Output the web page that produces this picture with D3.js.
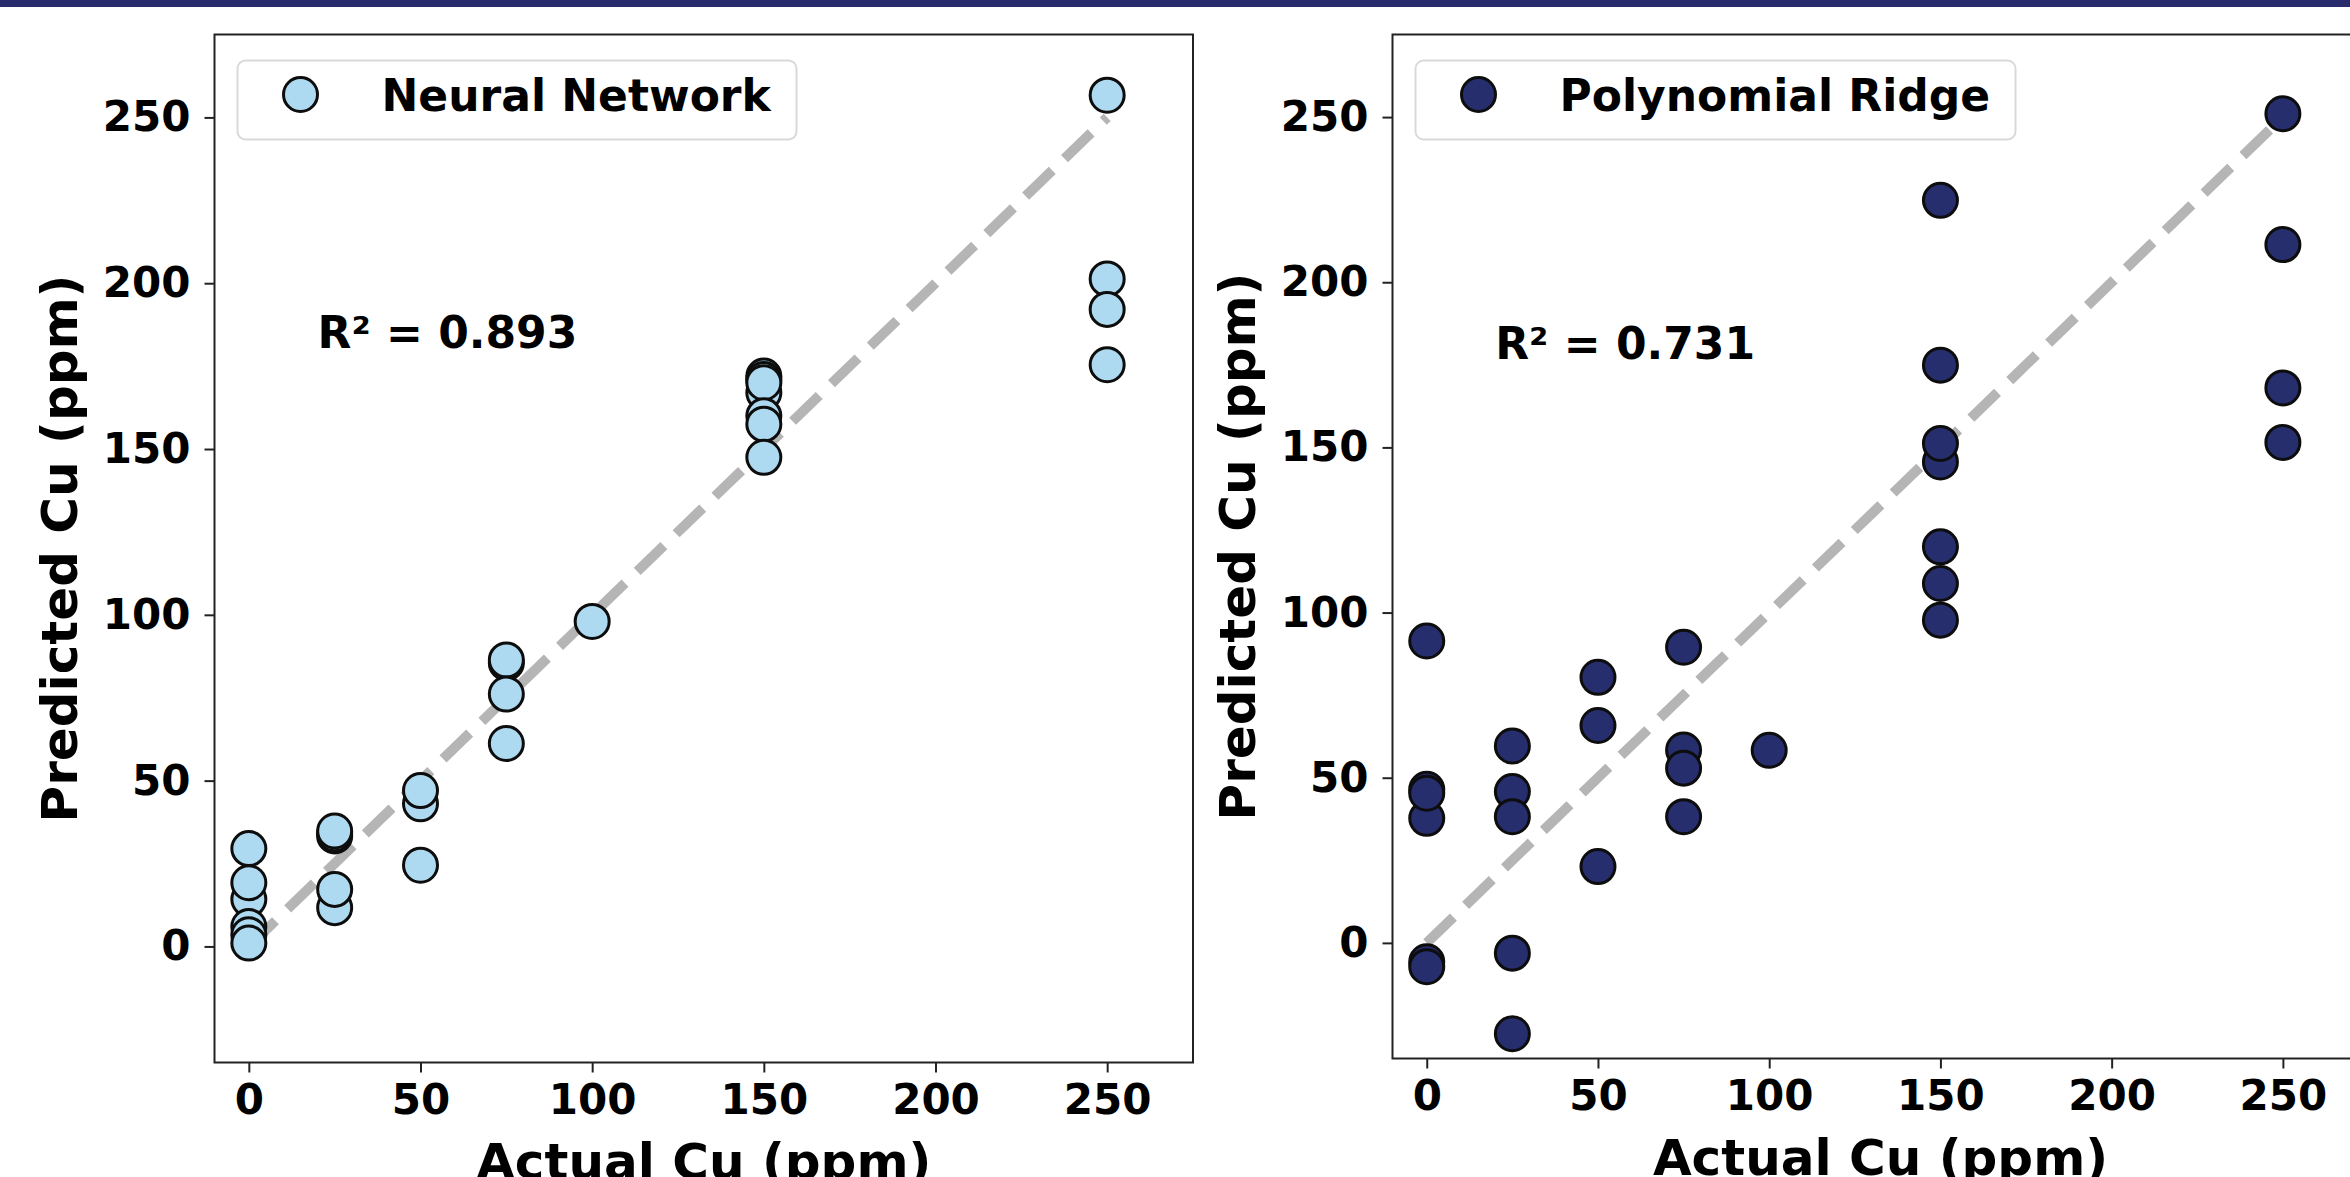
<!DOCTYPE html>
<html>
<head>
<meta charset="utf-8">
<script src="https://cdn.jsdelivr.net/npm/d3@7"></script>
<style>
  html, body { margin: 0; padding: 0; background: #fff; overflow: hidden; }
  text { font-family: 'DejaVu Sans', sans-serif; font-weight: bold; fill: #000; }
</style>
</head>
<body>
<div id="chart-container"></div>
<script>
// actual vs predicted Cu (ppm)
const actualNN = [0, 0, 0, 0, 0, 0, 25, 25, 25, 25, 25, 50, 50, 50, 75, 75, 75, 75, 100,
  150, 150, 150, 150, 150, 150, 150, 250, 250, 250, 250]
const predictedNN = [29.5, 14.2, 19.2, 6, 3.5, 1, 33.3, 34, 34.8, 11.7, 17.2, 43, 47, 24.5,
  85.5, 86.4, 76.1, 61.2, 98, 172, 167, 171, 170, 160, 157.5, 147.5, 256.7, 201.3, 192.1, 175.4]

const actualPR = [0, 0, 0, 0, 0, 0, 25, 25, 25, 25, 25, 50, 50, 50, 75, 75, 75, 75, 100,
  150, 150, 150, 150, 150, 150, 150, 250, 250, 250, 250]
const predictedPR = [91.4, 37.7, 46.5, 45.3, -5.7, -7.2, 59.6, 45.8, 38.2, -3.1, -27.5, 80.4, 65.8, 23.1,
  89.5, 58.4, 52.9, 38.2, 58.3, 224.8, 174.9, 145.6, 151.2, 119.9, 108.8, 97.7, 251, 211.4, 168, 151.5]

const modelNames = ['Neural Network', 'Polynomial Ridge']
const r2Labels = ['R² = 0.893', 'R² = 0.731']
const axisTicks = [0, 50, 100, 150, 200, 250]
const xLabel = 'Actual Cu (ppm)'
const yLabel = 'Predicted Cu (ppm)'

const width = 2350
const height = 1177

const panels = [
  {
    actual: actualNN, predicted: predictedNN, name: modelNames[0], r2: r2Labels[0],
    fill: '#aedaf1', box: { left: 214.5, right: 1193, top: 34.5, bottom: 1062.5 },
    r2At: [20, 185], legendWidth: 559
  },
  {
    actual: actualPR, predicted: predictedPR, name: modelNames[1], r2: r2Labels[1],
    fill: '#262e6e', box: { left: 1392.5, right: 2368.5, top: 34.5, bottom: 1058.5 },
    r2At: [20, 181.4], legendWidth: 600
  }
]

const svg = d3
  .select('#chart-container')
  .append('svg')
  .attr('width', width)
  .attr('height', height)

svg.append('rect').attr('width', width).attr('height', height).attr('fill', '#fff')

const drawPanel = ({ actual, predicted, name, r2, fill, box, r2At, legendWidth }) => {
  const x = d3.scaleLinear().domain([-10, 275]).range([box.left, box.right])
  const y = d3.scaleLinear().domain([-35, 275]).range([box.bottom, box.top])

  const g = svg.append('g')

  // ticks
  const xAxis = g
    .append('g')
    .attr('transform', `translate(0,${box.bottom})`)
    .call(d3.axisBottom(x).tickValues(axisTicks).tickSize(10).tickPadding(12).tickSizeOuter(0))
  const yAxis = g
    .append('g')
    .attr('transform', `translate(${box.left},0)`)
    .call(d3.axisLeft(y).tickValues(axisTicks).tickSize(10).tickPadding(14).tickSizeOuter(0))

  ;[xAxis, yAxis].forEach(a => {
    a.select('.domain').remove()
    a.selectAll('line').attr('stroke', '#222').attr('stroke-width', 2)
    a.selectAll('text')
      .attr('font-family', 'DejaVu Sans')
      .attr('font-weight', 'bold')
      .attr('font-size', 42)
      .attr('fill', '#000')
  })

  // diagonal reference
  g.append('line')
    .attr('x1', x(0))
    .attr('y1', y(0))
    .attr('x2', x(250))
    .attr('y2', y(250))
    .attr('stroke', '#b5b5b5')
    .attr('stroke-width', 10)
    .attr('stroke-dasharray', '37 17')

  g.append('g')
    .selectAll('circle')
    .data(actual.map((a, i) => [a, predicted[i]]))
    .enter()
    .append('circle')
    .attr('cx', d => x(d[0]))
    .attr('cy', d => y(d[1]))
    .attr('r', 17)
    .attr('fill', fill)
    .attr('stroke', '#0d0d0d')
    .attr('stroke-width', 3)

  g.append('text')
    .attr('x', x(r2At[0]))
    .attr('y', y(r2At[1]))
    .attr('dominant-baseline', 'central')
    .attr('font-size', 44)
    .text(r2)

  // frame
  g.append('rect')
    .attr('x', box.left)
    .attr('y', box.top)
    .attr('width', box.right - box.left)
    .attr('height', box.bottom - box.top)
    .attr('fill', 'none')
    .attr('stroke', '#222')
    .attr('stroke-width', 2)

  // legend
  const lg = g.append('g').attr('transform', `translate(${box.left + 23},${box.top + 26})`)
  lg.append('rect')
    .attr('width', legendWidth)
    .attr('height', 79)
    .attr('rx', 8)
    .attr('fill', '#fff')
    .attr('fill-opacity', 0.85)
    .attr('stroke', '#d9d9d9')
    .attr('stroke-width', 2)
  lg.append('circle')
    .attr('cx', 63)
    .attr('cy', 34)
    .attr('r', 17)
    .attr('fill', fill)
    .attr('stroke', '#0d0d0d')
    .attr('stroke-width', 3)
  lg.append('text').attr('x', 144).attr('y', 50).attr('font-size', 44).text(name)

  // axis titles
  g.append('text')
    .attr('x', (box.left + box.right) / 2)
    .attr('y', box.bottom + 116)
    .attr('text-anchor', 'middle')
    .attr('font-size', 50)
    .text(xLabel)

  g.append('text')
    .attr('transform', `translate(${box.left - 138},${(box.top + box.bottom) / 2}) rotate(-90)`)
    .attr('text-anchor', 'middle')
    .attr('font-size', 50)
    .text(yLabel)
}

panels.forEach(drawPanel)

// navy band across the top
svg.append('rect').attr('x', 0).attr('y', 0).attr('width', width).attr('height', 7).attr('fill', '#282c6c')
</script>
</body>
</html>
